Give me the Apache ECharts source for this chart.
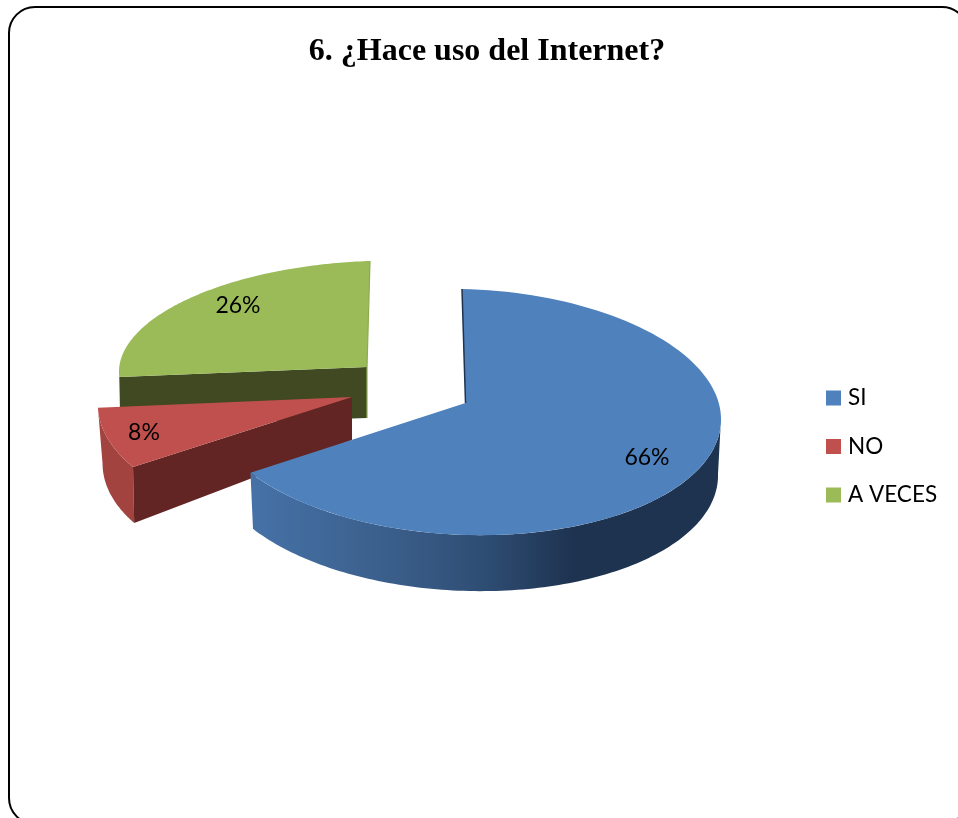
<!DOCTYPE html>
<html>
<head>
<meta charset="utf-8">
<style>html,body{margin:0;padding:0;background:#fff;overflow:hidden}#c{width:958px;height:818px}</style>
<script src="https://cdn.jsdelivr.net/npm/echarts@6/dist/echarts.min.js"></script>
</head>
<body>
<div id="c"></div>
<script>
const categories = ['SI', 'NO', 'A VECES'];
const values = [66, 8, 26];
const titleText = '6. ¿Hace uso del Internet?';

const total = values.reduce((a, b) => a + b, 0);
const startAngles = values.map((_, i) => values.slice(0, i).reduce((a, b) => a + b, 0) / total * 360);

const palette = ['#4F81BD', '#C0504D', '#9BBB59'];
// Projection of each exploded slice: top rim, bottom rim and apex
const views = [
  { top: { cx: 465, cy: 412, rx: 256, ry: 123, s: 3, t: 6 },
    bottom: { cx: 465, cy: 468, rx: 253, ry: 123, s: 3, t: 6 },
    apex: [465.5, 403], apexBottom: [465.5, 450], wallFrom: 90,
    label: [647, 458] },
  { top: { cx: 354, cy: 400, rx: 256, ry: 125, s: -9, t: 0 },
    bottom: { cx: 355, cy: 456, rx: 252, ry: 125, s: -15, t: 0 },
    apex: [352, 397], apexBottom: [352, 440],
    label: [144, 433] },
  { top: { cx: 367, cy: 362.6, rx: 248, ry: 101.6, s: -3, t: -8 },
    bottom: { cx: 367, cy: 412, rx: 247, ry: 101.6, s: -3, t: -8 },
    apex: [367, 367], apexBottom: [367, 418],
    label: [238, 306] }
];

function rim(p, deg) {
  const a = deg * Math.PI / 180;
  return [p.cx + p.rx * Math.sin(a) - p.s * Math.cos(a),
          p.cy - p.ry * Math.cos(a) + p.t * Math.sin(a)];
}
function arc(p, from, to) {
  const pts = [];
  const n = 120;
  for (let i = 0; i <= n; i++) pts.push(rim(p, from + (to - from) * i / n));
  return pts;
}
function poly(points, fill, z2) {
  return { type: 'polygon', z2: z2, shape: { points: points },
           style: { fill: fill, stroke: null } };
}
function line(points, stroke, width, z2) {
  return { type: 'polyline', z2: z2, shape: { points: points },
           style: { stroke: stroke, lineWidth: width, fill: null } };
}

function renderSlice(index, api) {
  const value = api.value(0);
  const v = views[index];
  const a0 = startAngles[index];
  const a1 = a0 + value / total * 360;
  const children = [];
  const topArc = arc(v.top, a0, a1);
  if (index === 0) {
    const wallTop = arc(v.top, v.wallFrom, a1);
    const wallBottom = arc(v.bottom, v.wallFrom, a1).reverse();
    children.push(poly(wallTop.concat(wallBottom), new echarts.graphic.LinearGradient(0, 0, 1, 0, [
      { offset: 0, color: '#4672A8' },
      { offset: 0.3, color: '#3A5E8A' },
      { offset: 0.5, color: '#2E4D73' },
      { offset: 0.685, color: '#1E3350' },
      { offset: 1, color: '#1D3350' }
    ]), 1));
    children.push(line([topArc[0], v.apex], '#1D3350', 1.5, 3));
  }
  if (index === 1) {
    const wallTop = arc(v.top, a0, a1);
    const wallBottom = arc(v.bottom, a0, a1).reverse();
    children.push(poly(wallTop.concat(wallBottom), '#A24340', 1));
    children.push(poly([v.apex, topArc[0], rim(v.bottom, a0), v.apexBottom], '#632523', 2));
  }
  if (index === 2) {
    const last = topArc[topArc.length - 1];
    children.push(poly([v.apex, topArc[0], rim(v.bottom, a0), v.apexBottom], '#404921', 1));
    children.push(line([last, v.apex, v.apexBottom], '#8CAB4F', 1.2, 3));
  }
  children.push(poly([v.apex].concat(topArc), palette[index], 2));
  children.push({
    type: 'text', z2: 5,
    style: { x: v.label[0], y: v.label[1], text: value + '%', fill: '#000',
             font: '23px Lato', align: 'center', verticalAlign: 'middle' }
  });
  return { type: 'group', children: children };
}

const chart = echarts.init(document.getElementById('c'), null, { renderer: 'canvas', width: 958, height: 818 });
chart.setOption({
  animation: false,
  backgroundColor: '#fff',
  color: palette,
  title: {
    text: titleText, left: 482, top: 31, textAlign: 'center',
    textStyle: { fontFamily: 'Liberation Serif', fontWeight: 'bold', fontSize: 32, color: '#000' }
  },
  legend: {
    data: categories, orient: 'vertical', left: 821, top: 380,
    icon: 'rect', itemWidth: 15, itemHeight: 15, itemGap: 22.5,
    selectedMode: false,
    textStyle: { fontFamily: 'Lato', fontSize: 22.5, color: '#000', padding: [0, 0, 0, 2], lineHeight: 26 }
  },
  graphic: [{
    type: 'rect', silent: true, z: -1,
    shape: { x: 9, y: 7, width: 959, height: 817, r: 26 },
    style: { fill: 'none', stroke: '#000', lineWidth: 2 }
  }],
  series: categories.map((name, i) => ({
    type: 'custom', name: name, coordinateSystem: 'none', silent: true,
    z: [4, 3, 2][i],
    itemStyle: { color: palette[i] },
    data: [[values[i]]],
    renderItem: (params, api) => renderSlice(i, api)
  }))
});
</script>
</body>
</html>
